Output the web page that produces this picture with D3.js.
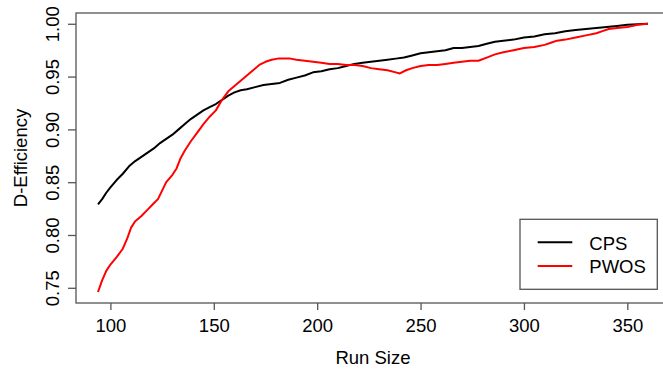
<!DOCTYPE html>
<html>
<head>
<meta charset="utf-8">
<script src="https://cdn.jsdelivr.net/npm/d3@7"></script>
<style>
  html, body { margin: 0; padding: 0; background: #fff; }
  svg { display: block; font-family: "Liberation Sans", Arial, sans-serif; }
</style>
</head>
<body>
<svg id="chart" width="663" height="370"></svg>
<script>
// Run sizes and D-efficiency for the two construction methods
const cpsRuns = [94, 96, 98, 100, 103, 106, 109, 112, 115, 118, 121, 124, 127, 130, 133, 136, 139, 142, 145, 148,
  151, 154, 157, 160, 163, 166, 170, 174, 178, 182, 186, 190, 194, 198, 202, 206, 210, 214, 218, 222,
  226, 230, 234, 238, 242, 246, 250, 254, 258, 262, 266, 270, 274, 278, 282, 286, 290, 295, 300, 305,
  310, 315, 320, 325, 330, 335, 340, 345, 350, 355, 360];
const cpsEff = [0.829, 0.834, 0.840, 0.845, 0.852, 0.858, 0.865, 0.870, 0.874, 0.878, 0.882, 0.887, 0.891, 0.895, 0.900, 0.905, 0.910, 0.914, 0.918, 0.921,
  0.924, 0.928, 0.932, 0.935, 0.937, 0.938, 0.940, 0.942, 0.943, 0.944, 0.947, 0.949, 0.951, 0.954, 0.955, 0.957, 0.958, 0.960, 0.962, 0.963,
  0.964, 0.965, 0.966, 0.967, 0.968, 0.970, 0.972, 0.973, 0.974, 0.975, 0.977, 0.977, 0.978, 0.979, 0.981, 0.983, 0.984, 0.985, 0.987, 0.988,
  0.990, 0.991, 0.993, 0.994, 0.995, 0.996, 0.997, 0.998, 0.999, 0.9995, 1.000];

const pwosRuns = [94, 96, 98, 100, 103, 106, 108, 110, 112, 115, 118, 121, 123, 125, 127, 130, 132, 134, 136, 139,
  142, 145, 148, 151, 154, 157, 160, 163, 166, 169, 172, 175, 178, 181, 184, 187, 190, 194, 198, 202,
  206, 210, 214, 218, 222, 226, 230, 234, 238, 240, 243, 246, 250, 254, 258, 262, 266, 270, 274, 278,
  282, 286, 290, 295, 300, 305, 310, 313, 316, 320, 325, 330, 335, 338, 341, 345, 350, 355, 360];
const pwosEff = [0.746, 0.757, 0.766, 0.772, 0.779, 0.787, 0.796, 0.807, 0.813, 0.818, 0.824, 0.830, 0.834, 0.842, 0.850, 0.857, 0.863, 0.873, 0.880, 0.889,
  0.897, 0.905, 0.912, 0.918, 0.928, 0.936, 0.941, 0.946, 0.951, 0.956, 0.961, 0.964, 0.966, 0.967, 0.967, 0.967, 0.966, 0.965, 0.964, 0.963,
  0.962, 0.962, 0.961, 0.961, 0.960, 0.958, 0.957, 0.956, 0.954, 0.953, 0.956, 0.958, 0.960, 0.961, 0.961, 0.962, 0.963, 0.964, 0.965, 0.965,
  0.968, 0.971, 0.973, 0.975, 0.977, 0.978, 0.980, 0.982, 0.984, 0.985, 0.987, 0.989, 0.991, 0.993, 0.995, 0.996, 0.997, 0.999, 1.000];

const xTicks = [100, 150, 200, 250, 300, 350];
const yTicks = [0.75, 0.80, 0.85, 0.90, 0.95, 1.00];
const seriesNames = ["CPS", "PWOS"];
const seriesColors = ["#000000", "#ff0000"];

const svg = d3.select("#chart");
const plot = { left: 76, right: 670, top: 13, bottom: 303 };
const fontSize = 18.5;
const axisColor = "#555";

const x = d3.scaleLinear().domain([83.36, 370.64]).range([plot.left, plot.right]);
const y = d3.scaleLinear().domain([0.7356, 1.0102]).range([plot.bottom, plot.top]);

// Curves
const line = d3.line().x(d => x(d[0])).y(d => y(d[1]));
const series = [
  d3.zip(cpsRuns, cpsEff),
  d3.zip(pwosRuns, pwosEff)
];
series.forEach((pts, i) => {
  svg.append("path")
    .datum(pts)
    .attr("fill", "none")
    .attr("stroke", seriesColors[i])
    .attr("stroke-width", 2)
    .attr("stroke-linejoin", "round")
    .attr("d", line);
});

// Plot frame
svg.append("rect")
  .attr("x", plot.left).attr("y", plot.top)
  .attr("width", plot.right - plot.left).attr("height", plot.bottom - plot.top)
  .attr("fill", "none").attr("stroke", axisColor).attr("stroke-width", 1.3);

// Bottom axis
const gx = svg.append("g")
  .attr("transform", `translate(0,${plot.bottom})`)
  .call(d3.axisBottom(x).tickValues(xTicks).tickSize(7).tickFormat(d3.format("d")));
gx.select(".domain").remove();
gx.selectAll(".tick line").attr("stroke", axisColor).attr("stroke-width", 1.3);
gx.selectAll(".tick text")
  .attr("y", 28.7).attr("dy", null)
  .attr("fill", "#000")
  .style("font-size", fontSize + "px")
  .style("font-family", "'Liberation Sans', Arial, sans-serif");

// Left axis with rotated labels
const gy = svg.append("g")
  .attr("transform", `translate(${plot.left},0)`)
  .call(d3.axisLeft(y).tickValues(yTicks).tickSize(8).tickFormat(d3.format(".2f")));
gy.select(".domain").remove();
gy.selectAll(".tick line").attr("stroke", axisColor).attr("stroke-width", 1.3);
gy.selectAll(".tick text")
  .attr("x", null).attr("dy", null)
  .attr("text-anchor", "middle")
  .attr("transform", "translate(-17,0) rotate(-90)")
  .attr("fill", "#000")
  .style("font-size", fontSize + "px")
  .style("font-family", "'Liberation Sans', Arial, sans-serif");

// Axis titles
svg.append("text")
  .attr("x", (plot.left + plot.right) / 2).attr("y", 364.3)
  .attr("text-anchor", "middle")
  .style("font-size", fontSize + "px")
  .text("Run Size");

svg.append("text")
  .attr("transform", `translate(26.8,${(plot.top + plot.bottom) / 2}) rotate(-90)`)
  .attr("text-anchor", "middle")
  .style("font-size", fontSize + "px")
  .text("D-Efficiency");

// Legend
const legend = svg.append("g");
legend.append("rect")
  .attr("x", 520).attr("y", 219.3).attr("width", 137.3).attr("height", 70)
  .attr("fill", "#fff").attr("stroke", axisColor).attr("stroke-width", 1.3);
const legendRowY = [242.3, 266];
seriesNames.forEach((name, i) => {
  legend.append("line")
    .attr("x1", 537.7).attr("x2", 572.3)
    .attr("y1", legendRowY[i]).attr("y2", legendRowY[i])
    .attr("stroke", seriesColors[i]).attr("stroke-width", 2);
  legend.append("text")
    .attr("x", 589.3).attr("y", legendRowY[i] + 7.4)
    .style("font-size", fontSize + "px")
    .text(name);
});
</script>
</body>
</html>
